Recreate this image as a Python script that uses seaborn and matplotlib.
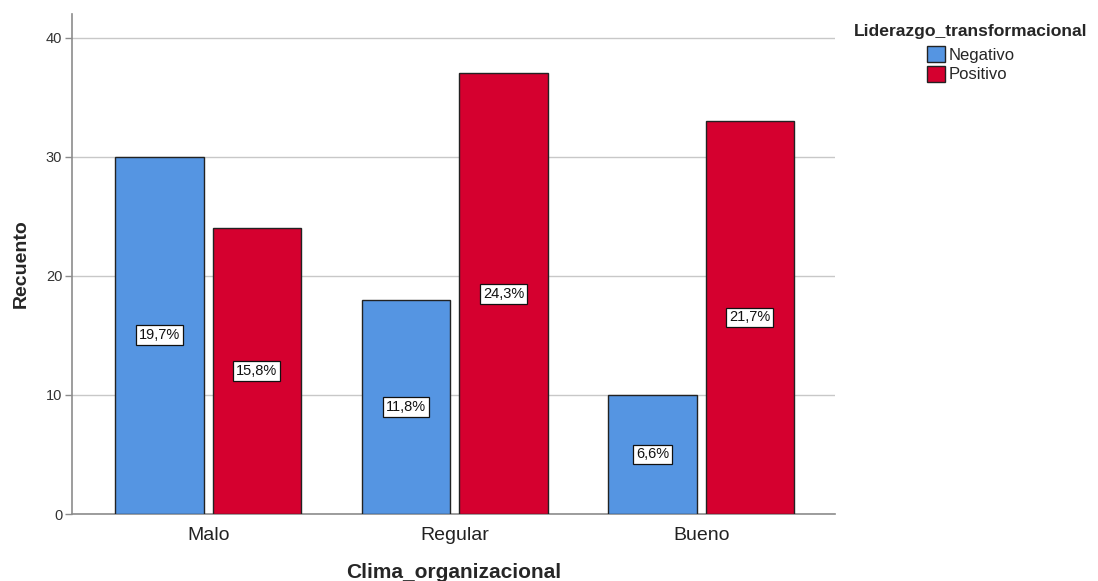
import matplotlib
matplotlib.use("Agg")
import matplotlib.pyplot as plt
import seaborn as sns
import pandas as pd

# Counts per climate level and leadership group
categories = ["Malo", "Regular", "Bueno"]
groups = ["Negativo", "Positivo"]
negativo = [30, 18, 10]
positivo = [24, 37, 33]
total = sum(negativo) + sum(positivo)

df = pd.DataFrame({
    "Clima_organizacional": categories * 2,
    "Liderazgo_transformacional": [groups[0]] * 3 + [groups[1]] * 3,
    "Recuento": negativo + positivo,
})

sns.set_theme(style="white")
plt.rcParams["font.family"] = ["Liberation Sans", "DejaVu Sans"]

fig = plt.figure(figsize=(10.98, 5.81), dpi=100)
ax = fig.add_axes([0.0656, 0.1153, 0.695, 0.861])

palette = {"Negativo": "#5595e2", "Positivo": "#d5002f"}
sns.barplot(data=df, x="Clima_organizacional", y="Recuento",
            hue="Liderazgo_transformacional", order=categories,
            hue_order=groups, palette=palette, width=0.79, gap=0.09,
            edgecolor="#222222", linewidth=1.0, saturation=1,
            ax=ax, zorder=3)

ax.set_xlim(-0.552, 2.543)
ax.set_ylim(0, 42)
ax.set_yticks([0, 10, 20, 30, 40])
ax.yaxis.grid(True, color="#c8c8c8", linewidth=1, zorder=0)
ax.set_axisbelow(True)
for s in ["top", "right"]:
    ax.spines[s].set_visible(False)
ax.spines["left"].set_color("#8c8c8c")
ax.spines["bottom"].set_color("#8c8c8c")
ax.spines["left"].set_linewidth(1.2)
ax.spines["bottom"].set_linewidth(1.2)

ax.tick_params(axis="y", labelsize=10.5, colors="#333333", length=5,
               width=1, color="#8c8c8c", left=True, pad=2)
ax.tick_params(axis="x", labelsize=14, colors="#222222", length=0, pad=9)
ax.set_ylabel("Recuento", fontsize=14, fontweight="bold", labelpad=12)
ax.set_xlabel("Clima_organizacional", fontsize=15, fontweight="bold",
              labelpad=14)

# Percentage of total at the middle of each bar
for container in ax.containers:
    for rect in container:
        h = rect.get_height()
        pct = f"{100 * h / total:.1f}%".replace(".", ",")
        ax.text(rect.get_x() + rect.get_width() / 2, h / 2, pct,
                ha="center", va="center", fontsize=10.5, color="#111111",
                zorder=5,
                bbox=dict(boxstyle="square,pad=0.2", facecolor="white",
                          edgecolor="#111111", linewidth=0.9))

leg = ax.legend(title="Liderazgo_transformacional", loc="upper left",
                bbox_to_anchor=(1.016, 0.992), frameon=False, fontsize=12,
                title_fontproperties={"weight": "bold", "size": 12.6},
                handlelength=1.1, handleheight=1.1, handletextpad=0.2,
                labelspacing=0.15, borderaxespad=0)
leg._legend_box.align = "center"
leg._legend_box.sep = 5
for h in leg.legend_handles:
    h.set_edgecolor("#222222")

fig.savefig("out.png", dpi=100)
